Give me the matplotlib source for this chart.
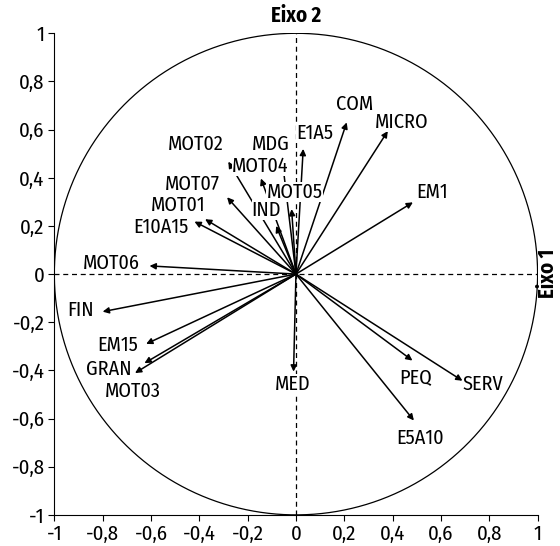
import numpy as np
import matplotlib
matplotlib.use("Agg")
import matplotlib.pyplot as plt
from matplotlib.ticker import FuncFormatter

plt.rcParams['font.family'] = ['Fira Sans Condensed', 'DejaVu Sans']

# variable names and coordinates on the two axes
names = ['COM', 'MICRO', 'E1A5', 'MDG', 'MOT02', 'MOT04', 'MOT07', 'MOT05',
         'MOT01', 'IND', 'E10A15', 'MOT06', 'FIN', 'EM15', 'GRAN', 'MOT03',
         'MED', 'PEQ', 'SERV', 'E5A10', 'EM1']
eixo1 = [0.21, 0.38, 0.03, -0.055, -0.28, -0.145, -0.285, -0.018,
         -0.376, -0.082, -0.42, -0.606, -0.80, -0.62, -0.627, -0.666,
         -0.01, 0.482, 0.689, 0.488, 0.484]
eixo2 = [0.63, 0.594, 0.52, 0.46, 0.467, 0.397, 0.319, 0.27,
         0.228, 0.20, 0.218, 0.034, -0.156, -0.29, -0.37, -0.411,
         -0.405, -0.359, -0.443, -0.608, 0.298]

# where each label sits (data coords, centre of text)
label_pos = {
    'COM': (0.243, 0.707), 'MICRO': (0.437, 0.632), 'E1A5': (0.077, 0.586),
    'MDG': (-0.105, 0.54), 'MOT02': (-0.414, 0.54), 'MOT04': (-0.147, 0.449),
    'MOT07': (-0.428, 0.374), 'MOT05': (-0.006, 0.341), 'MOT01': (-0.486, 0.287),
    'IND': (-0.122, 0.266), 'E10A15': (-0.557, 0.196), 'MOT06': (-0.764, 0.046),
    'FIN': (-0.892, -0.149), 'EM15': (-0.739, -0.294), 'GRAN': (-0.776, -0.394),
    'MOT03': (-0.675, -0.487), 'MED': (-0.014, -0.456), 'PEQ': (0.495, -0.427),
    'SERV': (0.773, -0.456), 'E5A10': (0.512, -0.68), 'EM1': (0.565, 0.341),
}

ticks = [-1, -0.8, -0.6, -0.4, -0.2, 0, 0.2, 0.4, 0.6, 0.8, 1]

fig = plt.figure(figsize=(5.6, 5.46), dpi=100)
ax = fig.add_axes([0.097, 0.057, 0.863, 0.882])
ax.set_xlim(-1, 1)
ax.set_ylim(-1, 1)

t = np.linspace(0, 2 * np.pi, 400)
ax.plot(np.cos(t), np.sin(t), color='black', lw=0.9, zorder=1)
ax.plot([-1, 1], [0, 0], color='black', lw=0.9, ls=(0, (4, 3)), zorder=1)
ax.plot([0, 0], [-1, 1], color='black', lw=0.9, ls=(0, (4, 3)), zorder=1)

for n, x, y in zip(names, eixo1, eixo2):
    ax.annotate('', xy=(x, y), xytext=(0, 0),
                arrowprops=dict(arrowstyle='-|>', color='black', lw=1.1,
                                mutation_scale=9, shrinkA=0, shrinkB=0),
                zorder=2)
for n in names:
    lx, ly = label_pos[n]
    ax.text(lx, ly, n, fontsize=14.5, ha='center', va='center', zorder=3,
            bbox=dict(facecolor='white', edgecolor='none', pad=0.2))

ax.set_xticks(ticks)
ax.set_yticks(ticks)
fmt = FuncFormatter(lambda v, p: ('%g' % round(v, 1)).replace('.', ','))
ax.xaxis.set_major_formatter(fmt)
ax.yaxis.set_major_formatter(fmt)
ax.tick_params(direction='out', length=4, width=0.8, labelsize=15, pad=3)
ax.spines['top'].set_visible(False)
ax.spines['right'].set_visible(False)
ax.spines['left'].set_linewidth(0.8)
ax.spines['bottom'].set_linewidth(0.8)

fig.text(0.529, 0.971, 'Eixo 2', fontsize=15, fontweight='bold',
         ha='center', va='center')
fig.text(0.979, 0.5, 'Eixo 1', fontsize=15, fontweight='bold',
         ha='center', va='center', rotation=90)

fig.savefig('out.png', dpi=100)
